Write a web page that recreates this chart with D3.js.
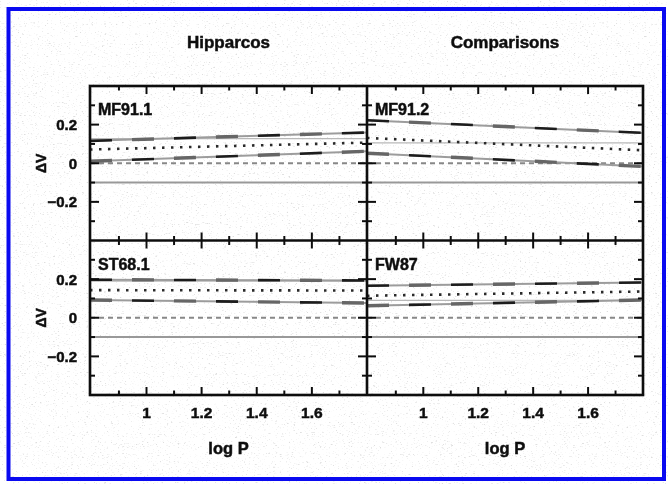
<!DOCTYPE html>
<html><head><meta charset="utf-8">
<script src="https://cdn.jsdelivr.net/npm/d3@7"></script>
<style>html,body{margin:0;padding:0;background:#fff;}svg{display:block;}</style>
</head><body>
<svg id="chart" width="668" height="484"></svg>
<script>
// ---- data ----
const panelLabels = ["MF91.1", "MF91.2", "ST68.1", "FW87"];
const columnTitles = ["Hipparcos", "Comparisons"];
const logPEnds = [0.795, 1.8];
const upperBand = [[0.116, 0.159], [0.223, 0.157], [0.197, 0.193], [0.166, 0.183]];
const meanLine  = [[0.071, 0.107], [0.131, 0.067], [0.143, 0.141], [0.114, 0.136]];
const lowerBand = [[0.010, 0.062], [0.052, -0.017], [0.092, 0.076], [0.062, 0.092]];
const refLine   = [[0.128, 0.128], [0.105, 0.105], [0.190, 0.190], [0.090, 0.090]];
const zeroLine  = [0, 0];
const minusLine = [-0.1, -0.1];
const xTicksMajor = [1.0, 1.2, 1.4, 1.6];
const xTickLabels = ["1", "1.2", "1.4", "1.6"];
const xTicksMinor = [0.9, 1.1, 1.3, 1.5, 1.7];
const yTicksMajor = [-0.2, 0, 0.2];
const yTickLabels = ["\u22120.2", "0", "0.2"];
const yTicksMinor = [-0.3, -0.1, 0.1, 0.3];

// ---- layout ----
const svg = d3.select("#chart");
const W = 668, H = 484;
const frame = {left: 90, right: 643, top: 86, bottom: 395};
const midX = 367, midY = 240.5;
const cols = [[frame.left, midX], [midX, frame.right]];
const rows = [[frame.top, midY], [midY, frame.bottom]];
const font = "'Liberation Sans', Arial, sans-serif";
const ink = "#111";

const defs = svg.append("defs");
const f = defs.append("filter").attr("id", "paper").attr("x", 0).attr("y", 0).attr("width", "100%").attr("height", "100%");
f.append("feTurbulence").attr("type", "fractalNoise").attr("baseFrequency", "0.45 0.9").attr("numOctaves", 2).attr("seed", 7).attr("result", "n");
f.append("feColorMatrix").attr("in", "n").attr("type", "matrix")
  .attr("values", "0 0 0 0 0.55  0 0 0 0 0.55  0 0 0 0 0.55  5 0 0 0 -3.1");
defs.append("filter").attr("id", "soft").append("feGaussianBlur").attr("stdDeviation", 0.45);

svg.append("rect").attr("width", W).attr("height", H).attr("fill", "#ffffff");
svg.append("rect").attr("width", W).attr("height", H).attr("filter", "url(#paper)").attr("opacity", 0.55);

// blue border
svg.append("rect").attr("x", 8.5).attr("y", 9).attr("width", 655.5).attr("height", 470)
  .attr("fill", "none").attr("stroke", "#0a0af0").attr("stroke-width", 4);

const root = svg.append("g").attr("filter", "url(#soft)");
const txt = (sel) => sel.attr("font-family", font).attr("font-weight", "bold").attr("fill", ink)
  .attr("stroke", ink).attr("stroke-width", 0.5);

// column titles
columnTitles.forEach((t, i) => {
  root.append("text").attr("x", (cols[i][0] + cols[i][1]) / 2).attr("y", 48)
    .attr("text-anchor", "middle").attr("font-size", 17).call(txt).text(t);
});

panelLabels.forEach((lab, p) => {
  const c = p % 2, r = Math.floor(p / 2);
  const x = d3.scaleLinear().domain(logPEnds).range(cols[c]);
  const y = d3.scaleLinear().domain([-0.4, 0.4]).range([rows[r][1], rows[r][0]]);
  const g = root.append("g");
  const clipId = "clip" + p;
  defs.append("clipPath").attr("id", clipId).append("rect")
    .attr("x", cols[c][0]).attr("y", rows[r][0]).attr("width", cols[c][1] - cols[c][0]).attr("height", rows[r][1] - rows[r][0]);
  const lg = g.append("g").attr("clip-path", `url(#${clipId})`);
  const line = d3.line().x((d, i) => x(logPEnds[i])).y(d => y(d));

  // -0.1 solid grey
  lg.append("path").attr("d", line(minusLine)).attr("fill", "none").attr("stroke", "#999").attr("stroke-width", 2);
  // zero dashed
  lg.append("path").attr("d", line(zeroLine)).attr("fill", "none").attr("stroke", "#888")
    .attr("stroke-width", 1.8).attr("stroke-dasharray", "5 4");
  // reference thin line
  lg.append("path").attr("d", line(refLine[p])).attr("fill", "none").attr("stroke", "#b8b8b8").attr("stroke-width", 1.3);
  // bands
  [upperBand[p], lowerBand[p]].forEach((b, k) => {
    lg.append("path").attr("d", line(b)).attr("fill", "none").attr("stroke", "#9c9c9c").attr("stroke-width", 2);
    lg.append("path").attr("d", line(b)).attr("fill", "none").attr("stroke", "#1c1c1c")
      .attr("stroke-width", 2.6).attr("stroke-dasharray", "22 62").attr("stroke-dashoffset", -42 * k);
    lg.append("path").attr("d", line(b)).attr("fill", "none").attr("stroke", "#666")
      .attr("stroke-width", 3.4).attr("stroke-dasharray", "22 62").attr("stroke-dashoffset", -42 * (1 - k));
  });
  // dotted mean
  lg.append("path").attr("d", line(meanLine[p])).attr("fill", "none").attr("stroke", "#2a2a2a")
    .attr("stroke-width", 2.6).attr("stroke-dasharray", "2.5 6.5");

  // ticks (inward on all sides)
  const tk = g.append("g").attr("stroke", ink).attr("stroke-width", 2);
  const addX = (vals, len) => vals.forEach(v => {
    tk.append("line").attr("x1", x(v)).attr("x2", x(v)).attr("y1", rows[r][1]).attr("y2", rows[r][1] - len);
    tk.append("line").attr("x1", x(v)).attr("x2", x(v)).attr("y1", rows[r][0]).attr("y2", rows[r][0] + len);
  });
  addX(xTicksMajor, 8); addX(xTicksMinor, 4.5);
  const addY = (vals, len) => vals.forEach(v => {
    tk.append("line").attr("y1", y(v)).attr("y2", y(v)).attr("x1", cols[c][0]).attr("x2", cols[c][0] + len);
    tk.append("line").attr("y1", y(v)).attr("y2", y(v)).attr("x1", cols[c][1]).attr("x2", cols[c][1] - len);
  });
  addY(yTicksMajor, 9); addY(yTicksMinor, 5);

  // panel label
  g.append("text").attr("x", cols[c][0] + 8).attr("y", rows[r][0] + 29)
    .attr("font-size", 16).call(txt).text(lab);

  if (c === 0) {
    yTicksMajor.forEach((v, i) => {
      g.append("text").attr("x", 77).attr("y", y(v) + 5.5).attr("text-anchor", "end")
        .attr("font-size", 15).call(txt).text(yTickLabels[i]);
    });
    g.append("text").attr("transform", `translate(46,${y(0)}) rotate(-90)`).attr("text-anchor", "middle")
      .attr("font-size", 14).call(txt).text("\u0394V");
  }
  if (r === 1) {
    xTicksMajor.forEach((v, i) => {
      g.append("text").attr("x", x(v)).attr("y", 418).attr("text-anchor", "middle")
        .attr("font-size", 15.5).call(txt).text(xTickLabels[i]);
    });
    g.append("text").attr("x", (cols[c][0] + cols[c][1]) / 2).attr("y", 454).attr("text-anchor", "middle")
      .attr("font-size", 16.5).call(txt).text("log P");
  }
});

// frame and dividers
root.append("rect").attr("x", frame.left).attr("y", frame.top).attr("width", frame.right - frame.left)
  .attr("height", frame.bottom - frame.top).attr("fill", "none").attr("stroke", ink).attr("stroke-width", 2.6);
root.append("line").attr("x1", midX).attr("x2", midX).attr("y1", frame.top).attr("y2", frame.bottom).attr("stroke", ink).attr("stroke-width", 2.6);
root.append("line").attr("x1", frame.left).attr("x2", frame.right).attr("y1", midY).attr("y2", midY).attr("stroke", ink).attr("stroke-width", 2.6);
</script>
</body></html>
